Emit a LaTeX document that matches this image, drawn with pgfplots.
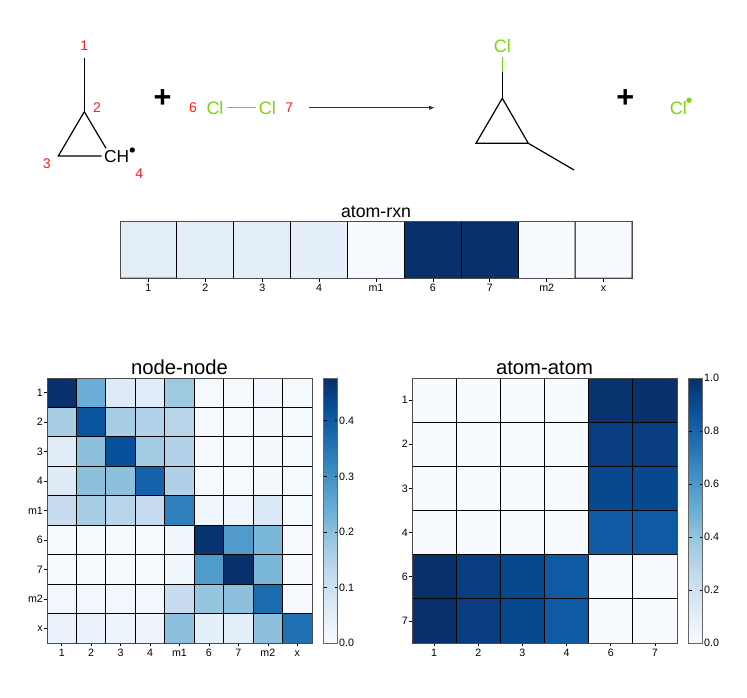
\documentclass[border=0pt]{standalone}
\usepackage{fontspec}
\setmainfont{Liberation Sans}
\usepackage{pgfplots}
\pgfplotsset{compat=1.18}
\usetikzlibrary{arrows.meta}

\definecolor{clgreen}{RGB}{124,213,15}
\definecolor{numred}{RGB}{255,32,32}

\pgfplotsset{
  colormap={mplblues}{rgb255=(247,251,255) rgb255=(222,235,247) rgb255=(198,219,239)
    rgb255=(158,202,225) rgb255=(107,174,214) rgb255=(66,146,198) rgb255=(33,113,181)
    rgb255=(8,81,156) rgb255=(8,48,107)},
  heat/.style={
    scale only axis, colormap name=mplblues,
    y dir=reverse, enlargelimits=false,
    tick align=outside, xtick pos=bottom, ytick pos=left,
    major tick length=2.6pt, tick style={black, line width=0.45pt},
    axis line style={line width=0.6pt, black!70},
    tick label style={font=\fontsize{8}{10}\selectfont},
    xticklabel style={yshift=2pt, text height=5.8pt, text depth=0pt}, yticklabel style={xshift=3pt},
    /pgf/number format/assume math mode=true,
    every axis title shift=0pt,
    title style={font=\fontsize{15.2}{17}\selectfont, inner sep=0pt, yshift=2.3pt},
  },
  cell/.style={matrix plot, point meta=explicit, draw=black, line width=0.65pt},
  cbar/.style={
    colorbar, colorbar shift/.style={xshift=8.6pt},
    colorbar style={width=10pt, axis line style={line width=0.6pt, black!60},
      tick label style={font=\fontsize{8}{10}\selectfont},
      yticklabel style={xshift=-2pt},
      major tick length=2pt, tick style={black, line width=0.45pt},
      /pgf/number format/assume math mode=true,
      /pgf/number format/fixed, /pgf/number format/precision=1,
      /pgf/number format/fixed zerofill},
  },
}

\begin{document}
\begin{tikzpicture}
\path[use as bounding box] (0,0) rectangle (560.25pt,523.5pt);

% reaction scheme, in the pixels of the picture
\begin{axis}[at={(0,0)}, anchor=south west, scale only axis, width=560.25pt, height=523.5pt,
    xmin=0, xmax=747, ymin=0, ymax=698, y dir=reverse, hide axis, clip=false,
    every axis plot/.append style={no marks, line width=0.9pt}]
  \addplot[black] coordinates {(84.3,58.3) (84.3,111.7)};
  \addplot[black] coordinates {(106,148.3) (84.3,111.7) (58.3,156) (101.7,156)};
  \addplot[clgreen, line width=1pt] coordinates {(227,107.7) (255.7,107.7)};
  \addplot[black!80, -{Latex[length=4.5pt,width=3.4pt]}] coordinates {(309,107.7) (435,107.7)};
  \addplot[black] coordinates {(502.3,72.3) (502.3,98.3)};
  \addplot[clgreen] coordinates {(502.3,57.3) (502.3,72.3)};
  \addplot[black] coordinates {(502.3,98.3) (476,143.3) (528.3,143.3) (502.3,98.3)};
  \addplot[black] coordinates {(528.3,143.3) (574,170)};
  \addplot[only marks, mark=*, mark size=1.5pt, mark options={black}] coordinates {(132.3,150)};
  \addplot[only marks, mark=*, mark size=1.5pt, mark options={clgreen}] coordinates {(689,100.3)};

  \begin{scope}[every node/.style={inner sep=0pt, text=numred, font=\fontsize{10.5}{12}\selectfont}]
    \node at (axis cs:84.3,46) {1};
    \node at (axis cs:97,107.7) {2};
    \node at (axis cs:46.7,163.3) {3};
    \node at (axis cs:139.3,173.3) {4};
    \node at (axis cs:193,107.7) {6};
    \node at (axis cs:289.3,107.7) {7};
  \end{scope}
  \begin{scope}[every node/.style={inner sep=0pt, text=clgreen, font=\fontsize{13.5}{15}\selectfont}]
    \node at (axis cs:215,107.7) {Cl};
    \node at (axis cs:267.3,107.7) {Cl};
    \node at (axis cs:502.3,46) {Cl};
    \node at (axis cs:678.3,107.7) {Cl};
  \end{scope}
  \node[inner sep=0pt, font=\fontsize{13}{15}\selectfont] at (axis cs:116.7,156.7) {CH};
  \node[inner sep=0pt, font=\bfseries\fontsize{23}{25}\selectfont] at (axis cs:162.7,99) {+};
  \node[inner sep=0pt, font=\bfseries\fontsize{23}{25}\selectfont] at (axis cs:625.3,99) {+};
\end{axis}

% atom-rxn: a matrix plot needs two rows, the second one lies outside ymax and is clipped
\begin{axis}[heat, at={(90pt,314.8pt)}, anchor=south west, width=384pt, height=42.75pt,
    title={atom-rxn}, title style={font=\fontsize{13.3}{15}\selectfont},
    point meta min=0, point meta max=1,
    xmin=-0.5, xmax=8.5, ymin=-0.5, ymax=0.5, xtick={0,...,8},
    xticklabels={1,2,3,4,m1,6,7,m2,x}, ytick=\empty]
  \addplot[cell, mesh/cols=9] coordinates {
    (0,0) [0.1] (1,0) [0.1] (2,0) [0.1] (3,0) [0.095] (4,0) [0]
    (5,0) [1] (6,0) [1] (7,0) [0] (8,0) [0]
    (0,1) [0.1] (1,1) [0.1] (2,1) [0.1] (3,1) [0.095] (4,1) [0]
    (5,1) [1] (6,1) [1] (7,1) [0] (8,1) [0]
  };
\end{axis}

% node-node
\begin{axis}[heat, cbar, at={(35.25pt,41.25pt)}, anchor=south west, width=198.75pt, height=198.75pt,
    title={node-node}, point meta min=0, point meta max=0.477,
    xmin=-0.5, xmax=8.5, ymin=-0.5, ymax=8.5, xtick={0,...,8}, ytick={0,...,8},
    xticklabels={1,2,3,4,m1,6,7,m2,x}, yticklabels={1,2,3,4,m1,6,7,m2,x}]
  \addplot[cell, mesh/cols=9] coordinates {
    (0,0) [0.475] (1,0) [0.24] (2,0) [0.06] (3,0) [0.055] (4,0) [0.18] (5,0) [0.002] (6,0) [0.003] (7,0) [0.012] (8,0) [0.005]
    (0,1) [0.165] (1,1) [0.41] (2,1) [0.165] (3,1) [0.15] (4,1) [0.14] (5,1) [0.002] (6,1) [0.002] (7,1) [0.008] (8,1) [0.004]
    (0,2) [0.055] (1,2) [0.2] (2,2) [0.42] (3,2) [0.175] (4,2) [0.15] (5,2) [0.002] (6,2) [0.002] (7,2) [0.008] (8,2) [0.004]
    (0,3) [0.06] (1,3) [0.2] (2,3) [0.2] (3,3) [0.385] (4,3) [0.155] (5,3) [0.002] (6,3) [0.002] (7,3) [0.008] (8,3) [0.004]
    (0,4) [0.115] (1,4) [0.165] (2,4) [0.14] (3,4) [0.12] (4,4) [0.33] (5,4) [0.02] (6,4) [0.02] (7,4) [0.07] (8,4) [0.005]
    (0,5) [0.002] (1,5) [0.002] (2,5) [0.002] (3,5) [0.002] (4,5) [0.02] (5,5) [0.47] (6,5) [0.28] (7,5) [0.22] (8,5) [0.003]
    (0,6) [0.002] (1,6) [0.002] (2,6) [0.002] (3,6) [0.002] (4,6) [0.02] (5,6) [0.28] (6,6) [0.477] (7,6) [0.22] (8,6) [0.003]
    (0,7) [0.015] (1,7) [0.015] (2,7) [0.015] (3,7) [0.015] (4,7) [0.115] (5,7) [0.19] (6,7) [0.2] (7,7) [0.37] (8,7) [0.003]
    (0,8) [0.03] (1,8) [0.03] (2,8) [0.025] (3,8) [0.025] (4,8) [0.2] (5,8) [0.045] (6,8) [0.05] (7,8) [0.2] (8,8) [0.36]
  };
\end{axis}

% atom-atom
\begin{axis}[heat, cbar, at={(309pt,41.25pt)}, anchor=south west, width=198.75pt, height=198.75pt,
    title={atom-atom}, point meta min=0, point meta max=1,
    xmin=-0.5, xmax=5.5, ymin=-0.5, ymax=5.5, xtick={0,...,5}, ytick={0,...,5},
    xticklabels={1,2,3,4,6,7}, yticklabels={1,2,3,4,6,7}]
  \addplot[cell, mesh/cols=6] coordinates {
    (0,0) [0] (1,0) [0] (2,0) [0] (3,0) [0] (4,0) [0.99] (5,0) [1]
    (0,1) [0] (1,1) [0] (2,1) [0] (3,1) [0] (4,1) [0.95] (5,1) [0.95]
    (0,2) [0] (1,2) [0] (2,2) [0] (3,2) [0] (4,2) [0.91] (5,2) [0.91]
    (0,3) [0] (1,3) [0] (2,3) [0] (3,3) [0] (4,3) [0.84] (5,3) [0.84]
    (0,4) [1] (1,4) [0.95] (2,4) [0.91] (3,4) [0.84] (4,4) [0] (5,4) [0]
    (0,5) [1] (1,5) [0.95] (2,5) [0.91] (3,5) [0.84] (4,5) [0] (5,5) [0]
  };
\end{axis}
\end{tikzpicture}
\end{document}
